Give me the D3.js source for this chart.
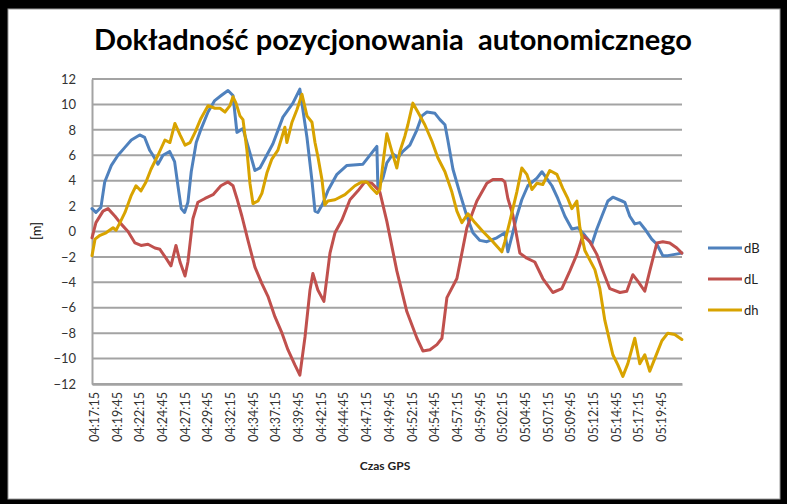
<!DOCTYPE html>
<html><head><meta charset="utf-8">
<script src="https://cdn.jsdelivr.net/npm/d3@7"></script>
<style>html,body{margin:0;padding:0;background:#000;}svg{display:block;}</style>
</head><body>
<svg id="chart" width="787" height="504"></svg>
<script>
const chartTitle = "Dokładność pozycjonowania  autonomicznego";
const xAxisTitle = "Czas GPS";
const yAxisTitle = "[m]";
const seriesNames = ["dB", "dL", "dh"];
const seriesColors = ["#4F81BD", "#C0504D", "#D8A300"];
const yTicks = [-12, -10, -8, -6, -4, -2, 0, 2, 4, 6, 8, 10, 12];
const tickLabels = ["04:17:15","04:19:45","04:22:15","04:24:45","04:27:15","04:29:45","04:32:15","04:34:45","04:37:15","04:39:45","04:42:15","04:44:45","04:47:15","04:49:45","04:52:15","04:54:45","04:57:15","04:59:45","05:02:15","05:04:45","05:07:15","05:09:45","05:12:15","05:14:45","05:17:15","05:19:45"];
const tickStepSeconds = 150;
const timeSpanSeconds = 3900; // seconds after 04:17:15

// seconds after 04:17:15 and values [m]
const dBTime = [0,26,59,84,128,172,216,260,315,348,381,403,436,469,513,546,568,590,612,634,656,689,722,767,811,854,899,932,958,998,1077,1110,1196,1262,1328,1374,1421,1454,1474,1493,1526,1559,1619,1685,1791,1857,1883,1890,1923,1949,1989,2022,2055,2101,2148,2181,2214,2267,2300,2333,2352,2386,2432,2478,2518,2564,2610,2676,2729,2749,2775,2808,2841,2881,2941,2974,2993,3040,3079,3126,3172,3212,3258,3304,3337,3370,3410,3443,3503,3522,3555,3588,3621,3654,3700,3734,3773,3806,3852,3899];
const dBValues = [1.8,1.5,1.9,3.9,5.2,6.0,6.6,7.2,7.6,7.4,6.4,6.0,5.3,6.0,6.3,5.5,3.6,1.8,1.5,2.3,4.7,7.0,8.1,9.4,10.3,10.7,11.1,10.7,7.8,8.1,4.8,5.0,6.9,9.0,10.1,11.2,7.4,4.0,1.6,1.5,2.2,3.2,4.5,5.2,5.3,6.3,6.7,3.4,4.2,5.4,6.1,5.8,6.3,6.8,8.0,9.1,9.4,9.3,8.8,8.4,7.2,4.9,3.0,1.2,-0.1,-0.7,-0.8,-0.5,-0.1,-1.6,-0.4,1.2,2.5,3.6,4.2,4.7,4.4,3.6,2.6,1.2,0.2,0.3,-0.3,-1.0,0.2,1.2,2.4,2.7,2.4,2.3,1.2,0.6,0.7,0.2,-0.6,-1.0,-1.9,-1.9,-1.8,-1.7];

const dLTime = [0,26,73,106,152,192,238,284,324,370,416,449,489,522,555,582,615,634,667,700,747,800,852,899,932,958,991,1031,1077,1123,1163,1209,1256,1295,1341,1374,1408,1441,1460,1493,1533,1573,1606,1652,1705,1758,1804,1850,1890,1903,1949,2015,2081,2148,2187,2234,2280,2313,2346,2412,2478,2544,2610,2650,2709,2729,2749,2782,2828,2874,2927,2980,3046,3106,3159,3205,3245,3291,3337,3377,3423,3490,3535,3575,3608,3654,3687,3734,3773,3819,3866,3899];
const dLValues = [-0.5,0.7,1.6,1.8,1.2,0.6,0.0,-0.9,-1.1,-1.0,-1.3,-1.4,-2.1,-2.7,-1.1,-2.4,-3.5,-2.4,1.0,2.3,2.6,2.9,3.6,3.9,3.6,2.6,1.2,-0.7,-2.8,-4.1,-5.1,-6.7,-8.0,-9.3,-10.5,-11.3,-8.3,-4.6,-3.3,-4.6,-5.5,-1.7,-0.1,0.9,2.5,3.2,3.9,3.8,3.3,3.1,0.8,-3.1,-6.3,-8.4,-9.4,-9.3,-8.9,-8.4,-5.2,-3.7,0.3,2.4,3.8,4.1,4.1,3.9,2.6,1.3,-1.7,-2.1,-2.4,-3.7,-4.8,-4.5,-3.1,-1.8,-0.3,-0.8,-1.8,-3.1,-4.5,-4.8,-4.7,-3.4,-3.9,-4.7,-3.1,-0.9,-0.8,-0.9,-1.3,-1.7];

const dhTime = [0,20,53,93,139,159,185,218,258,291,324,357,390,436,482,515,548,582,615,648,681,720,767,813,846,879,912,932,952,978,998,1024,1044,1064,1097,1123,1156,1189,1229,1275,1288,1322,1355,1388,1421,1454,1474,1493,1520,1539,1559,1606,1672,1738,1784,1817,1850,1883,1903,1929,1949,1982,2015,2035,2068,2088,2121,2154,2200,2247,2286,2333,2379,2412,2445,2485,2531,2584,2650,2709,2729,2762,2808,2841,2874,2908,2941,2980,3026,3073,3112,3145,3172,3205,3225,3258,3324,3357,3390,3443,3476,3509,3542,3588,3621,3654,3687,3720,3767,3806,3852,3899];
const dhValues = [-1.9,-0.6,-0.3,-0.1,0.3,0.1,0.7,1.5,2.8,3.6,3.2,3.9,4.9,6.0,7.2,7.0,8.5,7.6,6.8,7.0,7.8,8.9,9.9,9.7,9.7,9.4,9.9,10.6,10.1,9.1,8.8,6.4,3.8,2.2,2.4,3.0,4.6,5.7,6.4,8.2,7.0,8.6,9.6,10.8,9.1,8.6,7.0,5.9,4.1,2.1,2.4,2.5,2.9,3.6,3.9,3.9,3.4,3.0,3.3,5.9,7.7,6.3,5.0,6.3,7.5,8.4,10.1,9.4,8.4,7.1,5.8,4.7,3.1,1.6,0.7,1.4,0.7,0.0,-0.8,-1.6,-0.8,0.8,3.1,5.0,4.5,3.3,3.8,3.7,4.8,4.5,3.4,2.6,1.8,2.4,0.3,-1.5,-3.0,-4.5,-7.0,-9.7,-10.5,-11.4,-10.4,-8.4,-10.4,-9.7,-11.0,-10.0,-8.6,-8.0,-8.1,-8.5];

const seriesTimes = [dBTime, dLTime, dhTime];
const seriesValues = [dBValues, dLValues, dhValues];

const svg = d3.select("#chart");
const W = 787, H = 504;
svg.append("rect").attr("width", W).attr("height", H).attr("fill", "#000");
svg.append("rect").attr("x", 8).attr("y", 9).attr("width", 772).attr("height", 490)
  .attr("fill", "#fff").attr("stroke", "#9a9a9a").attr("stroke-width", 1);

const font = "Lato, 'Open Sans', sans-serif";
const x = d3.scaleLinear().domain([0, timeSpanSeconds]).range([92, 682]);
const y = d3.scaleLinear().domain([-12, 12]).range([384, 79]);

// gridlines
svg.append("g").selectAll("line").data(yTicks).join("line")
  .attr("x1", 92).attr("x2", 682)
  .attr("y1", d => y(d)).attr("y2", d => y(d))
  .attr("stroke", "#a3a3a3").attr("stroke-width", 2);

// y axis
const yAxis = svg.append("g").attr("transform", "translate(92,0)")
  .call(d3.axisLeft(y).tickValues(yTicks).tickSize(0).tickPadding(16));
yAxis.select(".domain").attr("stroke", "#a3a3a3").attr("stroke-width", 2);
yAxis.selectAll("text").attr("font-family", font).attr("font-size", 13).attr("fill", "#333");

// x axis
const xTickVals = tickLabels.map((_, i) => i * tickStepSeconds);
const xAxis = svg.append("g").attr("transform", "translate(0,384)")
  .call(d3.axisBottom(x).tickValues(xTickVals).tickSize(0).tickFormat((d, i) => tickLabels[i]));
xAxis.select(".domain").attr("stroke", "#a3a3a3").attr("stroke-width", 2.5);
xAxis.selectAll("text")
  .attr("font-family", font).attr("font-size", 12.5).attr("fill", "#333")
  .attr("text-anchor", "end").attr("dy", "0.35em").attr("y", 0)
  .attr("transform", "translate(2,8) rotate(-90)");

// lines
const line = d3.line().x(d => x(d[0])).y(d => y(d[1]));
seriesNames.forEach((name, i) => {
  const pts = seriesTimes[i].map((t, j) => [t, seriesValues[i][j]]);
  svg.append("path").datum(pts)
    .attr("d", line).attr("fill", "none")
    .attr("stroke", seriesColors[i]).attr("stroke-width", 3)
    .attr("stroke-linejoin", "round").attr("stroke-linecap", "round");
});

// title
svg.append("text").attr("x", 393).attr("y", 50).attr("text-anchor", "middle")
  .attr("font-family", font).attr("font-weight", "bold").attr("font-size", 28)
  .attr("fill", "#000").attr("xml:space", "preserve")
  .attr("textLength", 598).attr("lengthAdjust", "spacingAndGlyphs")
  .text(chartTitle);

// axis titles
svg.append("text").attr("transform", "translate(41,231) rotate(-90)")
  .attr("text-anchor", "middle").attr("font-family", font).attr("font-size", 13)
  .attr("fill", "#000").text(yAxisTitle);
svg.append("text").attr("x", 385).attr("y", 470).attr("text-anchor", "middle")
  .attr("font-family", font).attr("font-weight", "bold").attr("font-size", 12)
  .attr("fill", "#222").text(xAxisTitle);

// legend
const legendY = [248, 279, 310];
const lg = svg.append("g");
seriesNames.forEach((name, i) => {
  lg.append("line").attr("x1", 708).attr("x2", 742)
    .attr("y1", legendY[i]).attr("y2", legendY[i])
    .attr("stroke", seriesColors[i]).attr("stroke-width", 3);
  lg.append("text").attr("x", 744).attr("y", legendY[i]).attr("dy", "0.35em")
    .attr("font-family", font).attr("font-size", 13).attr("fill", "#222").text(name);
});
</script>
</body></html>
